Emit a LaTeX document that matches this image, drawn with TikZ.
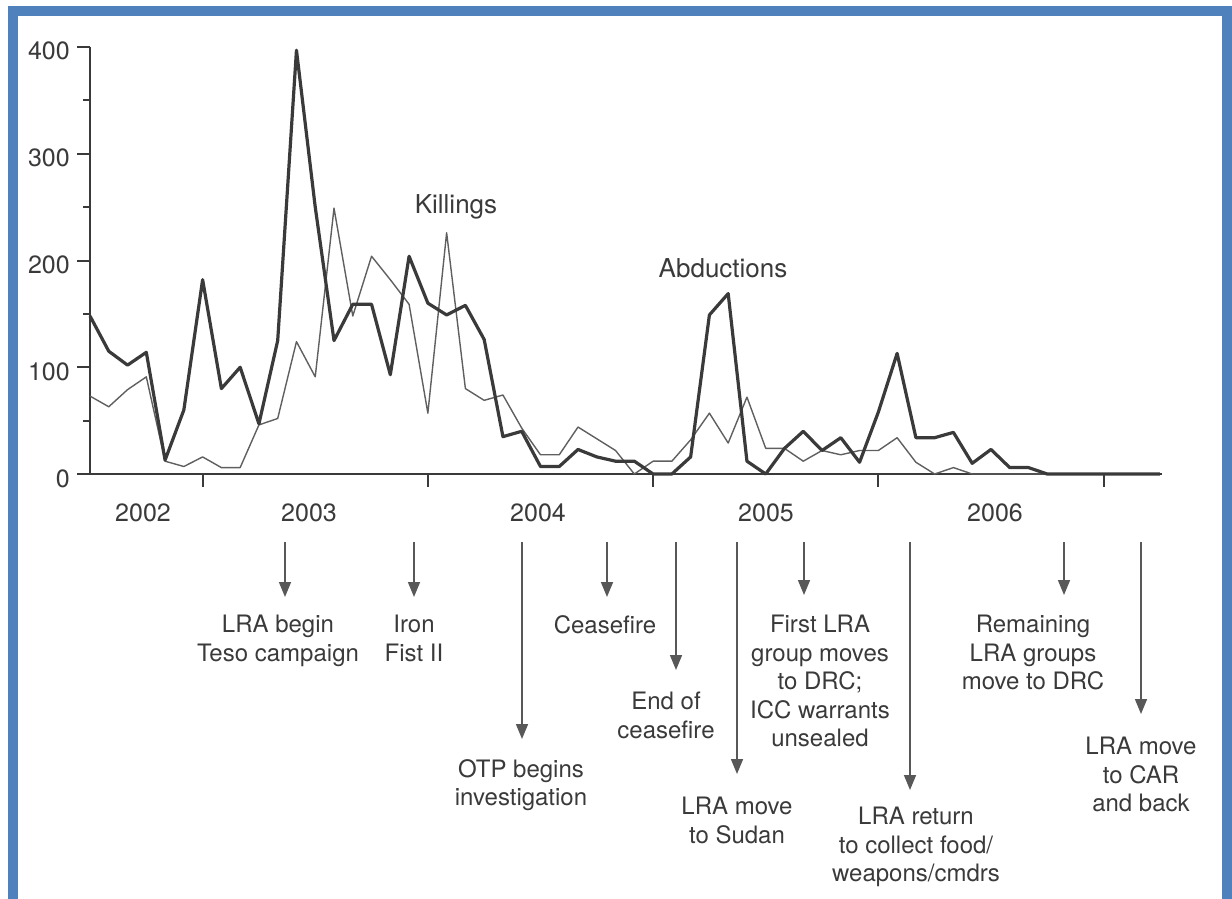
\documentclass[tikz,border=0pt]{standalone}
\usepackage{fontspec}
\setmainfont{TeX Gyre Heros}
\usepackage{xcolor}
\usetikzlibrary{arrows.meta}
\usetikzlibrary{positioning}

\definecolor{frameblue}{RGB}{79,129,189}
\definecolor{ink}{RGB}{58,58,58}
\definecolor{thingray}{RGB}{95,95,95}
\definecolor{arrowgray}{RGB}{88,88,88}

\begin{document}
\begin{tikzpicture}[x=1pt, y=-1pt, >={Triangle[width=12pt,length=15pt]},
		every node/.style={inner sep=0pt, text=ink},
		ann/.style={anchor=north, align=center, font=\fontsize{24}{28.5}\selectfont},
		yearlab/.style={anchor=base, font=\fontsize{25}{30}\selectfont},
		vallab/.style={anchor=base east, font=\fontsize{25}{30}\selectfont},
		serieslab/.style={anchor=base, font=\fontsize{26}{31}\selectfont},
		axisline/.style={draw=ink, line width=2pt},
		event/.style={->, draw=arrowgray, line width=1.6pt},
		abd/.style={draw=ink, line width=3.2pt, line join=round},
		kil/.style={draw=thingray, line width=1.4pt, line join=round}]
		%frame
		\useasboundingbox (0,0) rectangle (1232,899);
		\draw[frameblue, line width=10pt] (13,11.5) rectangle (1227,940);
		
		%axes
		\draw[axisline] (90,47) -- (90,474) -- (1162,474);
		\foreach \v in {0,100,...,400}{
			\draw[axisline] (77,{474-1.0675*\v}) -- (90,{474-1.0675*\v});
			\node[vallab] (v\v) at (70,{487-1.0675*\v}) {\v};
		}
		\foreach \v in {50,150,250,350}
			\draw[axisline] (83,{474-1.0675*\v}) -- (90,{474-1.0675*\v});
		\foreach \k in {6,18,30,42,54}
			\draw[axisline] ({90+18.77*\k},474) -- ({90+18.77*\k},487);
		
		\node[yearlab] (y2002) at (143,521) {2002};
		\node[yearlab] (y2003) at (309,521) {2003};
		\node[yearlab] (y2004) at (538,521) {2004};
		\node[yearlab] (y2005) at (766,521) {2005};
		\node[yearlab] (y2006) at (995,521) {2006};
		
		%data, one point per month
		\begin{scope}[shift={(90,474)}, x=18.77pt, y=1.0675pt]
		\draw[kil] plot coordinates {(0,73) (1,63) (2,79) (3,91) (4,12) (5,7) (6,16) (7,6) (8,6) (9,46)
			(10,52) (11,124) (12,91) (13,249) (14,148) (15,204) (16,182) (17,159) (18,57) (19,226)
			(20,80) (21,69) (22,74) (23,43) (24,18) (25,18) (26,44) (27,33) (28,22) (29,0)
			(30,12) (31,12) (32,32) (33,57) (34,29) (35,72) (36,24) (37,24) (38,12) (39,22)
			(40,18) (41,22) (42,22) (43,34) (44,11) (45,0) (46,6) (47,0) (57,0)};
		\draw[abd] plot coordinates {(0,148) (1,115) (2,102) (3,114) (4,13) (5,60) (6,182) (7,80) (8,100) (9,47)
			(10,125) (11,397) (12,250) (13,125) (14,159) (15,159) (16,93) (17,204) (18,160) (19,149)
			(20,158) (21,126) (22,35) (23,40) (24,7) (25,7) (26,23) (27,16) (28,12) (29,12)
			(30,0) (31,0) (32,16) (33,149) (34,169) (35,12) (36,0) (37,24) (38,40) (39,22)
			(40,34) (41,11) (42,58) (43,113) (44,34) (45,34) (46,39) (47,10) (48,23) (49,6)
			(50,6) (51,0) (57,0)};
		\end{scope}
		
		\node[serieslab] (killings) at (456,213) {Killings};
		\node[serieslab] (abductions) at (723,277) {Abductions};
		
		%coordinates
		\coordinate (tesoS) at (285,542);   \coordinate (tesoE) at (285,597);
		\coordinate (ironS) at (414,542);   \coordinate (ironE) at (414,597);
		\coordinate (otpS)  at (522,542);   \coordinate (otpE)  at (522,739);
		\coordinate (cfS)   at (607,542);   \coordinate (cfE)   at (607,597);
		\coordinate (endS)  at (676,542);   \coordinate (endE)  at (676,670);
		\coordinate (sudS)  at (737,542);   \coordinate (sudE)  at (737,774);
		\coordinate (drcS)  at (804,542);   \coordinate (drcE)  at (804,595);
		\coordinate (retS)  at (910,542);   \coordinate (retE)  at (910,790);
		\coordinate (remS)  at (1064,542);  \coordinate (remE)  at (1064,595);
		\coordinate (carS)  at (1141,542);  \coordinate (carE)  at (1141,714);
		
		%nodes
		\node[ann] (teso) at (278,615) {LRA begin\\Teso campaign};
		\node[ann] (iron) at (414,615) {Iron\\Fist II};
		\node[ann] (otp)  at (521,759) {OTP begins\\investigation};
		\node[ann] (cf)   at (605,615) {Ceasefire};
		\node[ann] (endcf) at (666,692) {End of\\ceasefire};
		\node[ann] (sudan) at (737,797) {LRA move\\to Sudan};
		\node[ann] (drc)  at (820,615) {First LRA\\group moves\\to DRC;\\ICC warrants\\unsealed};
		\node[ann] (ret)  at (916,807) {LRA return\\to collect food/\\weapons/cmdrs};
		\node[ann] (rem)  at (1033,615) {Remaining\\LRA groups\\move to DRC};
		\node[ann] (car)  at (1141,737) {LRA move\\to CAR\\and back};
		
		\draw[event] (tesoS) -- (tesoE);
		\draw[event] (ironS) -- (ironE);
		\draw[event] (otpS) -- (otpE);
		\draw[event] (cfS) -- (cfE);
		\draw[event] (endS) -- (endE);
		\draw[event] (sudS) -- (sudE);
		\draw[event] (drcS) -- (drcE);
		\draw[event] (retS) -- (retE);
		\draw[event] (remS) -- (remE);
		\draw[event] (carS) -- (carE);
\end{tikzpicture}
\end{document}
